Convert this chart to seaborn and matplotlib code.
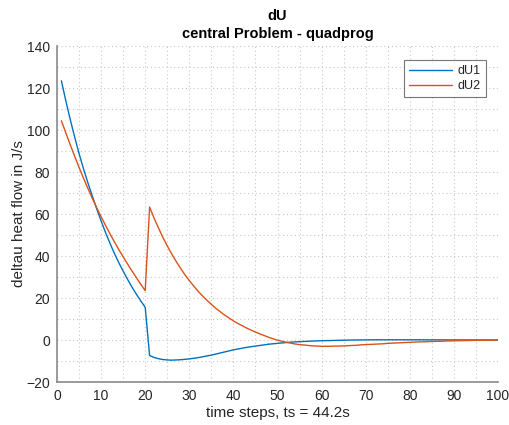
import numpy as np
import pandas as pd
import matplotlib
matplotlib.use("Agg")
import matplotlib.pyplot as plt
from matplotlib.ticker import MultipleLocator
import seaborn as sns

steps = list(range(1, 101))

dU1 = [123.4, 113.9, 105.0, 96.7, 88.8, 81.6, 74.9, 68.6, 62.5, 56.7,
       51.2, 46.1, 41.3, 36.9, 32.8, 28.9, 25.2, 21.8, 18.6, 15.6,
       -7.4, -8.3, -8.9, -9.3, -9.5, -9.6, -9.5, -9.4, -9.2, -9.0,
       -8.7, -8.4, -8.0, -7.6, -7.2, -6.7, -6.2, -5.7, -5.2, -4.7,
       -4.3, -3.9, -3.5, -3.2, -2.9, -2.6, -2.3, -2.0, -1.8, -1.6,
       -1.4, -1.2, -1.05, -0.9, -0.8, -0.7, -0.6, -0.5, -0.4, -0.35,
       -0.3, -0.25, -0.2, -0.15, -0.1, -0.05, 0.0, 0.0, 0.05, 0.05,
       0.08, 0.1, 0.1, 0.1, 0.1, 0.1, 0.1, 0.1, 0.1, 0.1,
       0.1, 0.1, 0.1, 0.08, 0.08, 0.07, 0.06, 0.05, 0.05, 0.04,
       0.04, 0.03, 0.03, 0.02, 0.02, 0.02, 0.01, 0.01, 0.0, 0.0]

dU2 = [104.4, 98.6, 93.0, 87.5, 82.2, 77.1, 72.2, 67.5, 63.0, 58.7,
       54.6, 50.6, 46.8, 43.1, 39.6, 36.2, 32.9, 29.7, 26.5, 23.5,
       63.3, 58.1, 53.4, 48.9, 44.8, 41.0, 37.5, 34.2, 31.1, 28.3,
       25.7, 23.2, 21.0, 18.9, 17.0, 15.1, 13.5, 11.9, 10.5, 9.1,
       7.9, 6.8, 5.7, 4.7, 3.8, 2.9, 2.1, 1.3, 0.6, -0.1,
       -0.6, -1.1, -1.5, -1.9, -2.2, -2.4, -2.6, -2.8, -2.9, -3.0,
       -3.0, -3.0, -2.9, -2.9, -2.8, -2.7, -2.6, -2.5, -2.3, -2.2,
       -2.1, -2.0, -1.9, -1.8, -1.6, -1.5, -1.4, -1.3, -1.2, -1.1,
       -1.0, -0.9, -0.85, -0.8, -0.7, -0.65, -0.6, -0.5, -0.45, -0.4,
       -0.35, -0.3, -0.25, -0.2, -0.18, -0.15, -0.12, -0.1, -0.05, 0.0]

series_names = ["dU1", "dU2"]
colors = ["#0072BD", "#D95319"]
title_lines = ["dU", "central Problem - quadprog"]
xlabel = "time steps, ts = 44.2s"
ylabel = "deltau heat flow in J/s"
xticks = [0, 10, 20, 30, 40, 50, 60, 70, 80, 90, 100]
yticks = [-20, 0, 20, 40, 60, 80, 100, 120, 140]

df = pd.DataFrame({
    "step": steps * 2,
    "value": dU1 + dU2,
    "series": [series_names[0]] * len(steps) + [series_names[1]] * len(steps),
})

sns.set_theme(style="white")
plt.rcParams["font.family"] = ["Liberation Sans", "DejaVu Sans"]

fig = plt.figure(figsize=(5.09, 4.25), dpi=100)
ax = fig.add_axes([57 / 509, 1 - 382 / 425, (498 - 57) / 509, (382 - 46) / 425])

sns.lineplot(data=df, x="step", y="value", hue="series",
             palette=dict(zip(series_names, colors)), linewidth=1.0, ax=ax)

ax.set_xlim(0, 100)
ax.set_ylim(-20, 140)
ax.set_xticks(xticks)
ax.set_yticks(yticks)
ax.xaxis.set_minor_locator(MultipleLocator(5))
ax.yaxis.set_minor_locator(MultipleLocator(10))
ax.grid(True, which="both", linestyle=(0, (1, 2.5)), color="#c8c8c8", linewidth=0.8)
ax.set_axisbelow(True)

for s in ["top", "right"]:
    ax.spines[s].set_visible(False)
for s in ["left", "bottom"]:
    ax.spines[s].set_color("#8a8a8a")
    ax.spines[s].set_linewidth(1.2)

ax.tick_params(axis="both", which="major", direction="in", length=4, width=0.8,
               color="#444444", labelsize=10, labelcolor="#262626", pad=5)
ax.tick_params(axis="both", which="minor", length=0)

ax.set_xlabel(xlabel, fontsize=11, color="#262626", labelpad=2)
ax.set_ylabel(ylabel, fontsize=11, color="#262626", labelpad=0)
ax.set_title("\n".join(title_lines), fontsize=10.5, fontweight="bold",
             color="black", pad=6, linespacing=1.35)

leg = ax.legend(loc="upper right", bbox_to_anchor=(0.973, 0.958), fontsize=9,
                frameon=True, fancybox=False, handlelength=3.4, borderaxespad=0,
                borderpad=0.4, labelspacing=0.25, handletextpad=0.5)
leg.get_frame().set_edgecolor("#555555")
leg.get_frame().set_linewidth(0.8)
for t in leg.get_texts():
    t.set_color("#262626")

fig.savefig("out.png", dpi=100, facecolor="white")
